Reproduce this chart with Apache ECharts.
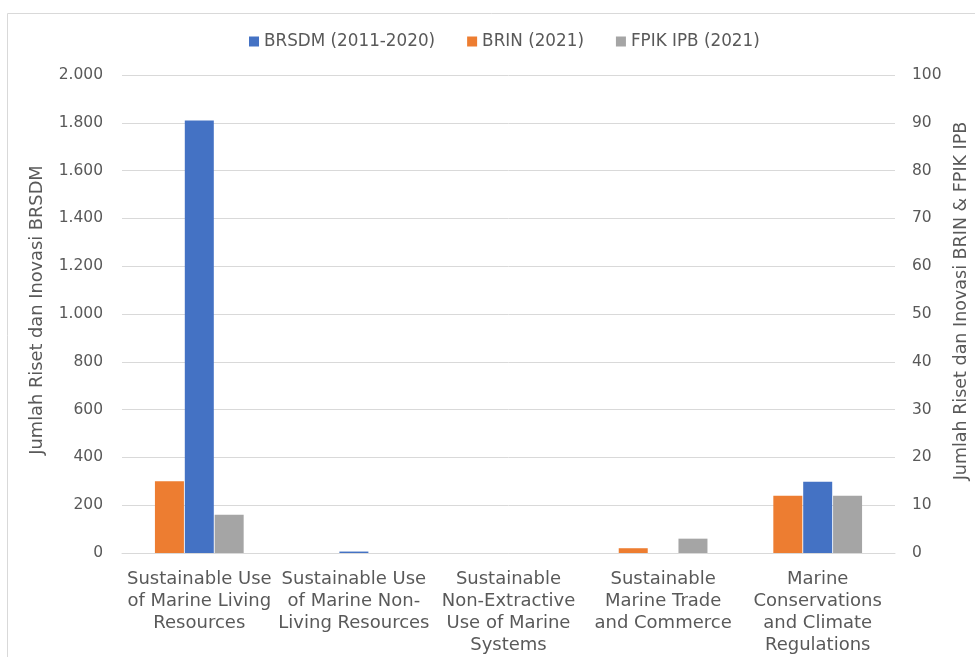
<!DOCTYPE html>
<html>
<head>
<meta charset="utf-8">
<script src="https://cdn.jsdelivr.net/npm/echarts@6/dist/echarts.min.js"></script>
<style>
  html, body { margin: 0; padding: 0; background: #ffffff; }
  #chart { width: 975px; height: 657px; }
</style>
</head>
<body>
<div id="chart"></div>
<script>
// Research themes (category axis)
const categories = [
  'Sustainable Use\nof Marine Living\nResources',
  'Sustainable Use\nof Marine Non-\nLiving Resources',
  'Sustainable\nNon-Extractive\nUse of Marine\nSystems',
  'Sustainable\nMarine Trade\nand Commerce',
  'Marine\nConservations\nand Climate\nRegulations'
];

// Research counts per theme
const brsdm = [1810, 6, 0, 0, 298];   // left axis
const brin = [15, 0, 0, 1, 12];       // right axis
const fpik = [8, 0, 0, 3, 12];        // right axis

const leftTicks = { min: 0, max: 2000, interval: 200 };
const rightTicks = { min: 0, max: 100, interval: 10 };

const seriesNames = ['BRSDM (2011-2020)', 'BRIN (2021)', 'FPIK IPB (2021)'];

const FONT = '"DejaVu Sans", sans-serif';
const TEXT = '#595959';
const GRID = '#d9d9d9';

function thousands(v) {
  return String(v).replace(/\B(?=(\d{3})+(?!\d))/g, '.');
}

const chart = echarts.init(document.getElementById('chart'));
chart.setOption({
  animation: false,
  textStyle: { fontFamily: FONT, color: TEXT },
  graphic: [{
    type: 'rect',
    shape: { x: 7.5, y: 13.5, width: 1000, height: 700 },
    style: { fill: 'none', stroke: GRID, lineWidth: 1 },
    silent: true
  }],
  legend: {
    data: seriesNames,
    top: 28,
    left: 244,
    itemWidth: 10,
    itemHeight: 10,
    itemGap: 32,
    icon: 'rect',
    textStyle: { fontFamily: FONT, fontSize: 16.8, color: TEXT }
  },
  grid: {
    left: 122, right: 80, top: 75, bottom: 104,
    containLabel: false,
    outerBoundsMode: 'none'
  },
  xAxis: {
    type: 'category',
    data: categories,
    axisLine: { lineStyle: { color: GRID, width: 1 } },
    axisTick: { show: false },
    axisLabel: {
      interval: 0,
      margin: 15,
      fontFamily: FONT,
      fontSize: 18,
      color: TEXT,
      lineHeight: 22,
      align: 'center'
    }
  },
  yAxis: [{
    type: 'value',
    min: leftTicks.min, max: leftTicks.max, interval: leftTicks.interval,
    name: 'Jumlah Riset dan Inovasi BRSDM',
    nameLocation: 'middle',
    nameGap: 76,
    nameRotate: 90,
    nameTextStyle: { fontFamily: FONT, fontSize: 17.8, color: TEXT, padding: [0, 0, 0, 8] },
    axisLine: { show: false },
    axisTick: { show: false },
    axisLabel: { fontFamily: FONT, fontSize: 15.5, color: TEXT, margin: 19, formatter: thousands },
    splitLine: { lineStyle: { color: GRID, width: 1 } }
  }, {
    type: 'value',
    position: 'right',
    min: rightTicks.min, max: rightTicks.max, interval: rightTicks.interval,
    name: 'Jumlah Riset dan Inovasi BRIN & FPIK IPB',
    nameLocation: 'middle',
    nameGap: 51,
    nameRotate: 90,
    nameTextStyle: { fontFamily: FONT, fontSize: 17.5, color: TEXT, padding: [0, 0, 0, 26] },
    axisLine: { show: false },
    axisTick: { show: false },
    axisLabel: { fontFamily: FONT, fontSize: 15.5, color: TEXT, margin: 17 },
    splitLine: { show: false }
  }],
  series: [{
    name: seriesNames[1],
    type: 'bar',
    yAxisIndex: 1,
    data: brin,
    barWidth: 29,
    barGap: '3%',
    itemStyle: { color: '#ED7D31' }
  }, {
    name: seriesNames[0],
    type: 'bar',
    yAxisIndex: 0,
    data: brsdm,
    barWidth: 29,
    barGap: '3%',
    itemStyle: { color: '#4472C4' }
  }, {
    name: seriesNames[2],
    type: 'bar',
    yAxisIndex: 1,
    data: fpik,
    barWidth: 29,
    barGap: '3%',
    itemStyle: { color: '#A5A5A5' }
  }]
});
</script>
</body>
</html>
